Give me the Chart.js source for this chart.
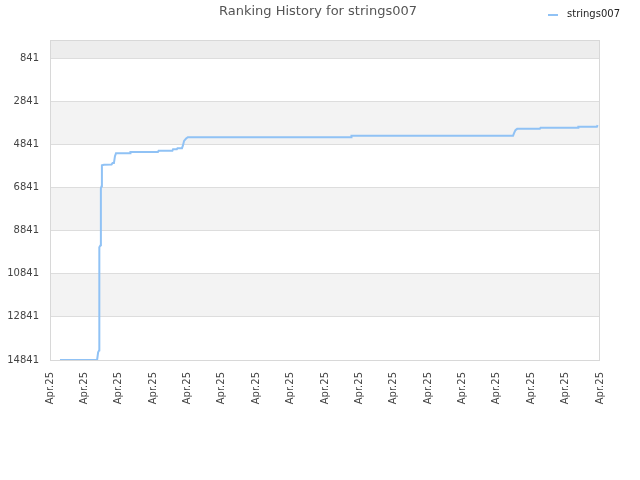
<!DOCTYPE html>
<html lang="en">
<head>
  <meta charset="UTF-8">
  <title>Ranking History for strings007</title>
  <script src="https://cdn.jsdelivr.net/npm/chart.js"></script>
  <style>
    html, body { margin: 0; padding: 0; background: #fff; }
    #wrap { width: 640px; height: 480px; }
  </style>
</head>
<body>
  <div id="wrap">
    <canvas id="rankChart" width="640" height="480"></canvas>
  </div>
  <script>
    // position along the time axis (0..160) and the rank at that moment
    const steps = [2.9, 13.7, 14.0, 14.3, 14.35, 14.7, 14.8, 15.0, 15.1, 15.7, 17.9, 18.2, 18.6, 18.9, 19.2,
      23.3, 23.4, 31.4, 31.6, 35.6, 35.8, 36.9, 37.1, 38.4, 38.7, 39.0, 39.6, 40.1,
      87.6, 87.7, 134.7, 135.0, 135.4, 135.9, 142.5, 142.7, 153.6, 153.7, 159.1, 159.3];
    const ranks = [14841, 14841, 14483, 14390, 9611, 9518, 6873, 6780, 5806, 5783, 5773, 5699, 5699, 5388, 5249,
      5249, 5189, 5189, 5142, 5142, 5063, 5063, 5017, 5017, 4878, 4678, 4567, 4507,
      4507, 4446, 4446, 4321, 4182, 4121, 4121, 4075, 4075, 4029, 4029, 3950];

    const yTicks = [841, 2841, 4841, 6841, 8841, 10841, 12841, 14841];
    const xLabels = ['Apr.25', 'Apr.25', 'Apr.25', 'Apr.25', 'Apr.25', 'Apr.25', 'Apr.25', 'Apr.25', 'Apr.25',
      'Apr.25', 'Apr.25', 'Apr.25', 'Apr.25', 'Apr.25', 'Apr.25', 'Apr.25', 'Apr.25'];

    const seriesName = 'strings007';
    const titleText = 'Ranking History for strings007';
    const lineColor = 'rgb(144, 194, 245)';

    // alternating bands behind the grid, plus border, title and legend
    const decor = {
      id: 'decor',
      beforeDraw(chart) {
        const { ctx, chartArea: a, scales: { y } } = chart;
        ctx.save();
        const edges = [y.min].concat(yTicks);
        for (let i = 0; i < edges.length - 1; i++) {
          const top = y.getPixelForValue(edges[i]);
          const bot = y.getPixelForValue(edges[i + 1]);
          if (i === 0) ctx.fillStyle = '#ededed';
          else ctx.fillStyle = (i % 2 === 0) ? '#f3f3f3' : '#ffffff';
          ctx.fillRect(a.left, top, a.right - a.left, bot - top);
        }
        ctx.restore();
      },
      afterDraw(chart) {
        const { ctx, chartArea: a } = chart;
        ctx.save();
        ctx.strokeStyle = '#d8d8d8';
        ctx.lineWidth = 1;
        ctx.strokeRect(a.left + 0.5, a.top + 0.5, a.right - a.left - 1, a.bottom - a.top);

        ctx.fillStyle = '#555';
        ctx.font = '13px "DejaVu Sans"';
        ctx.textAlign = 'center';
        ctx.textBaseline = 'middle';
        ctx.fillText(titleText, 318, 12);

        ctx.strokeStyle = lineColor;
        ctx.lineWidth = 2;
        ctx.beginPath();
        ctx.moveTo(548, 15);
        ctx.lineTo(558, 15);
        ctx.stroke();
        ctx.fillStyle = '#222';
        ctx.font = '10px "DejaVu Sans"';
        ctx.textAlign = 'left';
        ctx.fillText(seriesName, 567, 14);
        ctx.restore();
      }
    };

    new Chart(document.getElementById('rankChart'), {
      type: 'line',
      data: {
        datasets: [{
          label: seriesName,
          data: steps.map((s, i) => ({ x: s, y: ranks[i] })),
          borderColor: lineColor,
          borderWidth: 2,
          pointRadius: 0,
          tension: 0,
          fill: false
        }]
      },
      options: {
        responsive: false,
        animation: false,
        layout: { padding: { top: 40, right: 40, left: 0, bottom: 0 } },
        plugins: {
          legend: { display: false },
          title: { display: false },
          tooltip: { enabled: false }
        },
        scales: {
          x: {
            type: 'linear',
            min: 0,
            max: 160,
            afterBuildTicks: (scale) => {
              scale.ticks = xLabels.map((_, i) => ({ value: i * 10 }));
            },
            afterFit: (scale) => { scale.height = 120; },
            grid: { display: false, drawTicks: false },
            border: { display: false },
            ticks: {
              autoSkip: false,
              minRotation: 90,
              maxRotation: 90,
              padding: 12,
              color: '#444',
              font: { family: 'DejaVu Sans', size: 10 },
              callback: (v, i) => xLabels[i]
            }
          },
          y: {
            type: 'linear',
            reverse: true,
            min: 0,
            max: 14841,
            afterBuildTicks: (scale) => {
              scale.ticks = yTicks.map(v => ({ value: v }));
            },
            afterFit: (scale) => { scale.width = 50; },
            grid: { color: '#dddddd', drawTicks: false },
            border: { display: false },
            ticks: {
              padding: 11,
              color: '#444',
              font: { family: 'DejaVu Sans', size: 10 },
              callback: (v) => String(v)
            }
          }
        }
      },
      plugins: [decor]
    });
  </script>
</body>
</html>
